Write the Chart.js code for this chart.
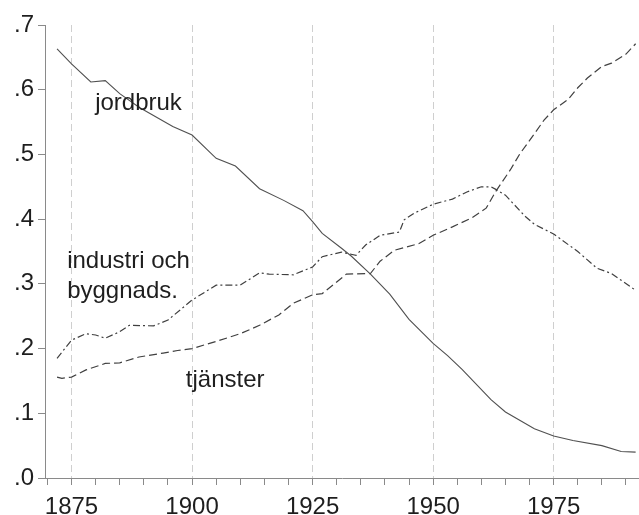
<!DOCTYPE html>
<html lang="sv">
<head>
    <meta charset="UTF-8">
    <title>Sysselsättning per sektor</title>
    <script src="https://cdn.jsdelivr.net/npm/chart.js"></script>
    <style>
        body {
            margin: 0;
            padding: 0;
            background: #fff;
        }
        #wrap {
            width: 639px;
            height: 515px;
        }
    </style>
</head>
<body>
    <div id="wrap">
        <canvas id="sectorChart" width="639" height="515"></canvas>
    </div>

    <script>
        // andelar av sysselsättningen, avlästa ur originalbilden
        const jordbrukYears = [1872, 1875, 1879, 1882, 1885, 1889, 1896, 1900, 1905, 1909, 1914, 1919, 1923, 1925, 1927, 1931, 1933, 1937, 1941, 1945, 1950, 1953, 1956, 1962, 1965, 1971, 1975, 1979, 1985, 1989, 1992];
        const jordbrukValues = [0.663, 0.640, 0.612, 0.614, 0.594, 0.573, 0.543, 0.530, 0.494, 0.482, 0.447, 0.429, 0.413, 0.396, 0.378, 0.355, 0.343, 0.315, 0.284, 0.245, 0.208, 0.189, 0.168, 0.121, 0.102, 0.076, 0.065, 0.058, 0.050, 0.041, 0.040];

        const industriYears = [1872, 1875, 1878, 1880, 1882, 1885, 1887, 1892, 1895, 1900, 1905, 1910, 1914, 1916, 1921, 1925, 1927, 1931, 1934, 1936, 1939, 1943, 1944, 1946, 1950, 1954, 1957, 1960, 1962, 1963, 1965, 1969, 1971, 1975, 1980, 1984, 1987, 1992];
        const industriValues = [0.185, 0.213, 0.223, 0.221, 0.216, 0.226, 0.236, 0.235, 0.244, 0.275, 0.298, 0.298, 0.317, 0.315, 0.314, 0.326, 0.342, 0.349, 0.344, 0.360, 0.375, 0.380, 0.399, 0.409, 0.423, 0.431, 0.442, 0.450, 0.450, 0.446, 0.437, 0.405, 0.392, 0.377, 0.350, 0.324, 0.316, 0.290];

        const tjansterYears = [1872, 1873, 1875, 1878, 1882, 1885, 1889, 1894, 1897, 1900, 1905, 1910, 1914, 1918, 1921, 1925, 1927, 1930, 1932, 1937, 1939, 1942, 1944, 1947, 1950, 1954, 1958, 1961, 1963, 1966, 1968, 1971, 1973, 1975, 1978, 1980, 1982, 1985, 1987, 1990, 1992];
        const tjansterValues = [0.156, 0.154, 0.156, 0.167, 0.177, 0.178, 0.187, 0.193, 0.197, 0.200, 0.211, 0.223, 0.236, 0.252, 0.270, 0.283, 0.285, 0.303, 0.315, 0.316, 0.335, 0.352, 0.356, 0.362, 0.375, 0.388, 0.402, 0.417, 0.443, 0.476, 0.501, 0.532, 0.553, 0.569, 0.585, 0.603, 0.618, 0.636, 0.641, 0.655, 0.671];

        const xMin = 1869.5;
        const xMax = 1992.7;
        const yTickStep = 0.1;

        // etiketter i diagrammet (år, andel vid baslinjen)
        const seriesLabels = [
            { text: 'jordbruk', year: 1879.9, value: 0.569 },
            { text: 'industri och', year: 1874.1, value: 0.325 },
            { text: 'byggnads.', year: 1874.1, value: 0.278 },
            { text: 'tjänster', year: 1898.7, value: 0.141 }
        ];

        const FONT = '24px "Liberation Sans", Arial, sans-serif';

        function toPoints(years, values) {
            return years.map((y, i) => ({ x: y, y: values[i] }));
        }

        const labelPlugin = {
            id: 'seriesLabels',
            afterDatasetsDraw(chart) {
                const ctx = chart.ctx;
                const xs = chart.scales.x;
                const ys = chart.scales.y;
                ctx.save();
                ctx.font = FONT;
                ctx.fillStyle = '#1e1e1e';
                ctx.textAlign = 'left';
                ctx.textBaseline = 'alphabetic';
                seriesLabels.forEach(l => {
                    ctx.fillText(l.text, xs.getPixelForValue(l.year), ys.getPixelForValue(l.value));
                });
                ctx.restore();
            }
        };

        const ctx = document.getElementById('sectorChart').getContext('2d');
        new Chart(ctx, {
            type: 'line',
            data: {
                datasets: [
                    {
                        label: 'jordbruk',
                        data: toPoints(jordbrukYears, jordbrukValues),
                        borderColor: '#505050',
                        borderWidth: 1.1,
                        pointRadius: 0,
                        tension: 0
                    },
                    {
                        label: 'industri och byggnads.',
                        data: toPoints(industriYears, industriValues),
                        borderColor: '#404040',
                        borderWidth: 1.2,
                        borderDash: [7, 3, 2, 3],
                        pointRadius: 0,
                        tension: 0
                    },
                    {
                        label: 'tjänster',
                        data: toPoints(tjansterYears, tjansterValues),
                        borderColor: '#404040',
                        borderWidth: 1.2,
                        borderDash: [8, 4],
                        pointRadius: 0,
                        tension: 0
                    }
                ]
            },
            options: {
                responsive: false,
                animation: false,
                layout: {
                    padding: { top: 25, right: 0, left: 0, bottom: 0 }
                },
                plugins: {
                    legend: { display: false },
                    tooltip: { enabled: false }
                },
                scales: {
                    x: {
                        type: 'linear',
                        min: xMin,
                        max: xMax,
                        afterFit: s => { s.height = 37; },
                        ticks: {
                            stepSize: 5,
                            autoSkip: false,
                            includeBounds: false,
                            maxRotation: 0,
                            padding: 8,
                            color: '#1e1e1e',
                            font: { family: '"Liberation Sans", Arial, sans-serif', size: 24 },
                            callback: v => (v % 25 === 0 ? String(v) : '')
                        },
                        grid: {
                            color: c => (c.tick && c.tick.value % 25 === 0 ? '#cfcfcf' : 'rgba(0,0,0,0)'),
                            lineWidth: 1,
                            tickColor: '#8a8a8a',
                            tickLength: 7
                        },
                        border: {
                            color: '#8a8a8a',
                            width: 1,
                            dash: [7, 4]
                        }
                    },
                    y: {
                        min: 0,
                        max: 0.7,
                        afterFit: s => { s.width = 45; },
                        ticks: {
                            stepSize: yTickStep,
                            padding: 4,
                            color: '#1e1e1e',
                            font: { family: '"Liberation Sans", Arial, sans-serif', size: 24 },
                            callback: v => v.toFixed(1).replace('0.', '.')
                        },
                        grid: {
                            drawOnChartArea: false,
                            tickColor: '#8a8a8a',
                            tickLength: 7
                        },
                        border: {
                            color: '#8a8a8a',
                            width: 1
                        }
                    }
                }
            },
            plugins: [labelPlugin]
        });
    </script>
</body>
</html>
